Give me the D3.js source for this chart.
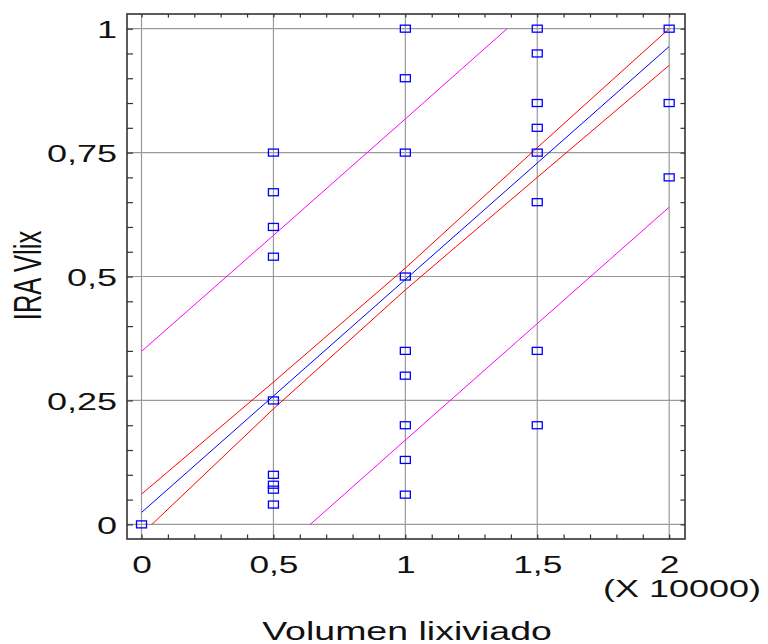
<!DOCTYPE html>
<html>
<head>
<meta charset="utf-8">
<script src="https://cdn.jsdelivr.net/npm/d3@7"></script>
<style>
  html, body { margin: 0; padding: 0; background: #fff; }
  svg { display: block; }
  text { font-family: "Liberation Sans", Arial, sans-serif; fill: #111; }
</style>
</head>
<body>
<svg id="chart" width="768" height="644"></svg>
<script>
// Observed IRA Vlix values grouped by leached volume (x 10000)
const volumes = [0, 0.5, 1, 1.5, 2];
const iraByVolume = [
  [0],
  [0.75, 0.67, 0.60, 0.54, 0.25, 0.10, 0.08, 0.07, 0.04],
  [1.00, 0.90, 0.75, 0.50, 0.35, 0.30, 0.20, 0.13, 0.06],
  [1.00, 0.95, 0.85, 0.80, 0.75, 0.65, 0.35, 0.20],
  [1.00, 0.85, 0.70]
];

// Fitted model and its limits, evaluated at each volume
const bandX      = [0, 0.5, 1, 1.5, 2];
const fitLine    = [0.024, 0.259, 0.494, 0.729, 0.964];
const confUpper  = [0.061, 0.287, 0.517, 0.760, 1.000];
const confLower  = [-0.020, 0.233, 0.473, 0.700, 0.926];
const predUpper  = [0.349, 0.583, 0.818, 1.054, 1.290];
const predLower  = [-0.301, -0.066, 0.170, 0.405, 0.640];

// Axis ticks
const xMajor = [0, 0.5, 1, 1.5, 2];
const yMajor = [0, 0.25, 0.5, 0.75, 1];
const xMinorStep = 0.1;
const yMinorStep = 0.05;

const xTitle = "Volumen lixiviado";
const yTitle = "IRA Vlix";
const xUnits = "(X 10000)";

const svg = d3.select("#chart");
const plotL = 127, plotR = 685, plotT = 14, plotB = 539;
const SX = 1.5; // horizontal text stretch

const x = d3.scaleLinear().domain([-0.055, 2.06]).range([plotL, plotR]);
const y = d3.scaleLinear().domain([-0.0295, 1.0296]).range([plotB, plotT]);
const fmt = d => String(d).replace(".", ",");

// Grid
const grid = svg.append("g").attr("stroke", "#9a9a9a").attr("stroke-width", 1.2);
grid.selectAll("line.v").data(xMajor).join("line").attr("class", "v")
  .attr("x1", d => x(d)).attr("x2", d => x(d))
  .attr("y1", plotT).attr("y2", plotB);
grid.selectAll("line.h").data(yMajor).join("line").attr("class", "h")
  .attr("x1", plotL).attr("x2", plotR)
  .attr("y1", d => y(d)).attr("y2", d => y(d));

// Minor ticks on all four sides, pointing inward
const xMinor = d3.range(0, 2 + 1e-9, xMinorStep);
const yMinor = d3.range(0, 1 + 1e-9, yMinorStep);
const tickStyle = g => {
  g.select(".domain").remove();
  g.selectAll("line").attr("stroke", "#333").attr("stroke-width", 1.2);
};
svg.append("g").attr("transform", `translate(0,${plotB})`)
  .call(d3.axisBottom(x).tickValues(xMinor).tickSize(-4.5).tickFormat(""))
  .call(tickStyle);
svg.append("g").attr("transform", `translate(0,${plotT})`)
  .call(d3.axisTop(x).tickValues(xMinor).tickSize(-3.5).tickFormat(""))
  .call(tickStyle);
svg.append("g").attr("transform", `translate(${plotL},0)`)
  .call(d3.axisLeft(y).tickValues(yMinor).tickSize(-6).tickFormat(""))
  .call(tickStyle);
svg.append("g").attr("transform", `translate(${plotR},0)`)
  .call(d3.axisRight(y).tickValues(yMinor).tickSize(-4.5).tickFormat(""))
  .call(tickStyle);

// Fitted line and limits, clipped to the data range
svg.append("clipPath").attr("id", "dataClip").append("rect")
  .attr("x", x(0)).attr("y", y(1))
  .attr("width", x(2) - x(0)).attr("height", y(0) - y(1));

const line = d3.line().x((d, i) => x(bandX[i])).y(d => y(d));
const curves = [
  { v: predUpper, c: "#ff00ff" },
  { v: predLower, c: "#ff00ff" },
  { v: confUpper, c: "#ff0000" },
  { v: confLower, c: "#ff0000" },
  { v: fitLine,   c: "#0000ff" }
];
svg.append("g").attr("clip-path", "url(#dataClip)")
  .selectAll("path").data(curves).join("path")
  .attr("d", d => line(d.v))
  .attr("fill", "none")
  .attr("stroke", d => d.c)
  .attr("stroke-width", 1);

// Observations
const points = volumes.flatMap((v, i) => iraByVolume[i].map(val => ({ v, val })));
const w = 10, h = 7;
svg.append("g").selectAll("rect").data(points).join("rect")
  .attr("x", d => x(d.v) - w / 2)
  .attr("y", d => y(d.val) - h / 2)
  .attr("width", w).attr("height", h)
  .attr("fill", "none")
  .attr("stroke", "#0000ff")
  .attr("stroke-width", 1.3);

// Frame
svg.append("rect")
  .attr("x", plotL).attr("y", plotT)
  .attr("width", plotR - plotL).attr("height", plotB - plotT)
  .attr("fill", "none").attr("stroke", "#333").attr("stroke-width", 1.6);

// Tick labels
const yLab = svg.append("g").attr("transform", `translate(${plotL},0)`)
  .call(d3.axisLeft(y).tickValues(yMajor).tickSize(0).tickFormat(fmt));
yLab.select(".domain").remove();
yLab.selectAll("text")
  .attr("x", -10 / SX).attr("dy", "0.36em")
  .attr("transform", `scale(${SX},1)`)
  .attr("font-size", 24).attr("font-family", null).attr("fill", "#111");

const xLab = svg.append("g").attr("transform", `translate(0,${plotB})`)
  .call(d3.axisBottom(x).tickValues(xMajor).tickSize(0).tickFormat(fmt));
xLab.select(".domain").remove();
xLab.selectAll("text")
  .attr("y", 34).attr("dy", 0)
  .attr("transform", `scale(${SX},1)`)
  .attr("font-size", 23.5).attr("font-family", null).attr("fill", "#111");

// Titles
svg.append("text")
  .attr("transform", `translate(${(plotL + plotR) / 2 + 1},640) scale(${SX},1)`)
  .attr("text-anchor", "middle").attr("font-size", 25)
  .text(xTitle);

svg.append("text")
  .attr("transform", `translate(603,597) scale(${SX},1)`)
  .attr("text-anchor", "start").attr("font-size", 24)
  .text(xUnits);

svg.append("text")
  .attr("transform", `translate(27.5,275.5) scale(${SX},1) rotate(-90)`)
  .attr("text-anchor", "middle").attr("dy", "0.36em").attr("font-size", 25.5)
  .text(yTitle);
</script>
</body>
</html>
